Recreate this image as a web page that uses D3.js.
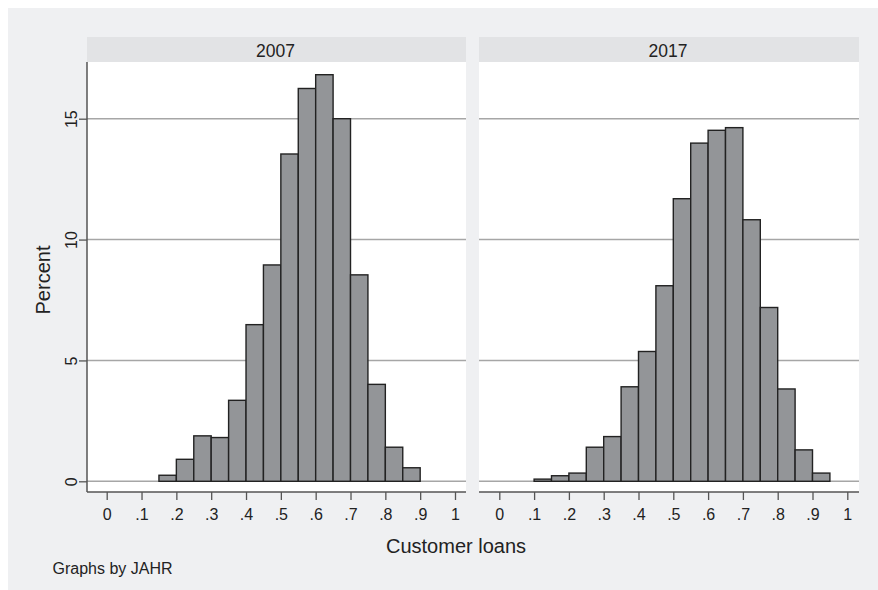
<!DOCTYPE html>
<html>
<head>
<meta charset="utf-8">
<script src="https://cdn.jsdelivr.net/npm/d3@7"></script>
<style>
  html, body { margin: 0; padding: 0; background: #ffffff; }
  svg { display: block; }
  text { font-family: "Liberation Sans", Arial, Helvetica, sans-serif; fill: #222; }
</style>
</head>
<body>
<svg id="chart" width="878" height="590"></svg>
<script>
// Histogram bins are 0.05 wide; each value is the percent of banks in that bin.
const panels = ["2007", "2017"];
const binWidth = 0.05;
const binStart2007 = 0.15;
const pct2007 = [0.25, 0.91, 1.88, 1.81, 3.35, 6.48, 8.95, 13.54, 16.25, 16.82, 15.0, 8.54, 4.01, 1.41, 0.56];
const binStart2017 = 0.10;
const pct2017 = [0.09, 0.23, 0.34, 1.41, 1.85, 3.91, 5.37, 8.09, 11.69, 13.99, 14.52, 14.63, 10.82, 7.19, 3.82, 1.30, 0.34];
const xTicks = [0, 0.1, 0.2, 0.3, 0.4, 0.5, 0.6, 0.7, 0.8, 0.9, 1];
const yTicks = [0, 5, 10, 15];
const xTitle = "Customer loans";
const yTitle = "Percent";
const note = "Graphs by JAHR";

const series = [
  { name: panels[0], start: binStart2007, values: pct2007 },
  { name: panels[1], start: binStart2017, values: pct2017 }
];

const svg = d3.select("#chart");

// Graph region background
svg.append("rect").attr("x", 8).attr("y", 8).attr("width", 870).attr("height", 582)
  .attr("fill", "#eff0f2");

const stripTop = 37, plotTop = 62, plotBottom = 492;
const panelBox = [
  { left: 87, right: 466, x0: 106.7, x1: 455 },
  { left: 479, right: 859, x0: 499.3, x1: 847.3 }
];

const y = d3.scaleLinear().domain([0, 15]).range([481.3, 118.7]);
const fmtX = d => d === 0 ? "0" : d === 1 ? "1" : d3.format(".1f")(d).replace(/^0/, "");

series.forEach((s, i) => {
  const b = panelBox[i];
  const x = d3.scaleLinear().domain([0, 1]).range([b.x0, b.x1]);
  const g = svg.append("g");

  // strip header
  g.append("rect").attr("x", b.left).attr("y", stripTop)
    .attr("width", b.right - b.left).attr("height", plotTop - stripTop)
    .attr("fill", "#e2e3e5");
  g.append("text").attr("x", (b.left + b.right) / 2 - 1).attr("y", 57.3)
    .attr("text-anchor", "middle").style("font-size", "17.5px").text(s.name);

  // plot area
  g.append("rect").attr("x", b.left).attr("y", plotTop)
    .attr("width", b.right - b.left).attr("height", plotBottom - plotTop)
    .attr("fill", "#ffffff");

  // horizontal gridlines
  g.selectAll("line.grid").data(yTicks).join("line").attr("class", "grid")
    .attr("x1", b.left).attr("x2", b.right)
    .attr("y1", d => y(d)).attr("y2", d => y(d))
    .attr("stroke", "#a6a6a6").attr("stroke-width", 1.5);

  // bars
  const bins = s.values.map((v, k) => ({ x0: s.start + k * binWidth, v }));
  g.selectAll("rect.bar").data(bins).join("rect").attr("class", "bar")
    .attr("x", d => x(d.x0))
    .attr("width", d => x(d.x0 + binWidth) - x(d.x0))
    .attr("y", d => y(d.v))
    .attr("height", d => y(0) - y(d.v))
    .attr("fill", "#939598")
    .attr("stroke", "#222222")
    .attr("stroke-width", 1.4);

  // x axis
  const ax = g.append("g").attr("transform", `translate(0,${plotBottom})`)
    .call(d3.axisBottom(x).tickValues(xTicks).tickFormat(fmtX).tickSize(8).tickPadding(9));
  ax.select(".domain").remove();
  ax.selectAll(".tick line").attr("stroke", "#555").attr("stroke-width", 1.3);
  ax.selectAll(".tick text").style("font-size", "16px").attr("fill", "#222").attr("dy", "0.71em");
  g.append("line").attr("x1", b.left).attr("x2", b.right)
    .attr("y1", plotBottom).attr("y2", plotBottom)
    .attr("stroke", "#555").attr("stroke-width", 1.5);

  // y axis only on the first panel
  if (i === 0) {
    const ay = g.append("g").attr("transform", `translate(${b.left},0)`)
      .call(d3.axisLeft(y).tickValues(yTicks).tickSize(8));
    ay.select(".domain").remove();
    ay.selectAll(".tick line").attr("stroke", "#555").attr("stroke-width", 1.3);
    ay.selectAll(".tick text").style("font-size", "16px").attr("fill", "#222")
      .attr("transform", "rotate(-90)").attr("x", 0).attr("y", -10).attr("dy", 0)
      .attr("text-anchor", "middle");
    g.append("line").attr("x1", b.left).attr("x2", b.left)
      .attr("y1", plotTop).attr("y2", plotBottom)
      .attr("stroke", "#555").attr("stroke-width", 1.5);
  }
});

// axis titles and note
svg.append("text").attr("x", 456).attr("y", 553.3).attr("text-anchor", "middle")
  .style("font-size", "20px").text(xTitle);
svg.append("text").attr("transform", "translate(50,280) rotate(-90)").attr("text-anchor", "middle")
  .style("font-size", "20px").text(yTitle);
svg.append("text").attr("x", 52.5).attr("y", 574).style("font-size", "16px").text(note);
</script>
</body>
</html>
